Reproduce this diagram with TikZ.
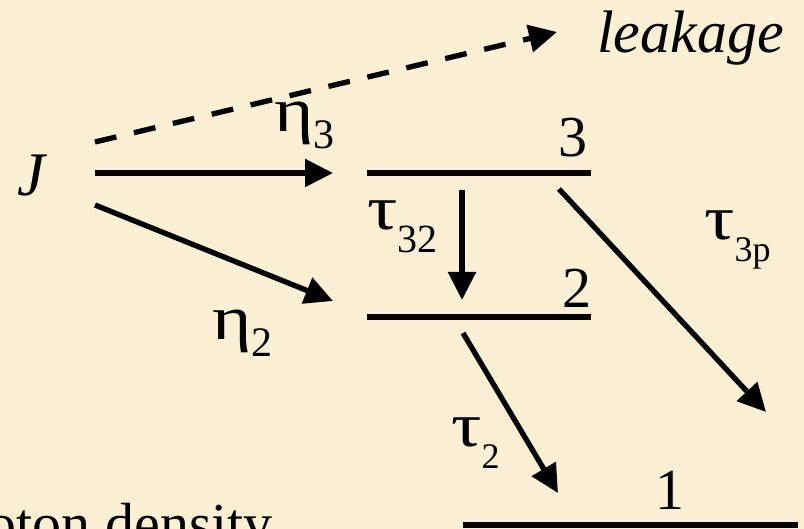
\documentclass[tikz,border=0pt]{standalone}
\usepackage{fontspec}
\setmainfont{Liberation Serif}
\usetikzlibrary{arrows.meta}
\definecolor{parch}{RGB}{251,239,212}
\newcommand{\gsub}[4]{\scalebox{1.3}[1.08]{#1}\lower#4pt\hbox{\fontsize{#3}{#3}\selectfont #2}}
\begin{document}
\begin{tikzpicture}[x=1pt,y=-1pt,
  font=\fontsize{58}{70}\selectfont,
  every node/.style={inner sep=0pt},
  lvl/.style={line width=5.3pt},
  arr/.style={line width=5.3pt,-{Triangle[length=28pt,width=27pt]}},
  darr/.style={arr,dash pattern=on 22pt off 18pt}]
\useasboundingbox (0,0) rectangle (804,529);
\clip (0,0) rectangle (804,529);
\fill[parch] (0,0) rectangle (804,529);
% texts
\node[anchor=base west,font=\fontsize{62}{70}\selectfont\itshape] (J) at (17,196) {J};
\node[anchor=base west,font=\fontsize{60}{70}\selectfont\itshape] (leak) at (597,53) {leakage};
\node[anchor=base] (lab3) at (573,157) {3};
\node[anchor=base] (lab2) at (577,308) {2};
\node[anchor=base] (lab1) at (670,510) {1};
\node[anchor=base west] (eta3) at (274,132) {\gsub{η}{3}{42}{17}};
\node[anchor=base west] (eta2) at (212,340) {\gsub{η}{2}{42}{17}};
\node[anchor=base west] (tau32) at (367,230) {\gsub{τ}{32}{40}{23}};
\node[anchor=base west] (tau3p) at (704,240) {\gsub{τ}{3p}{36}{22}};
\node[anchor=base west] (tau2) at (451,447) {\gsub{τ}{2}{36}{21}};
\node[anchor=base east] (photon) at (273,543) {Photon density};
% coordinates
\coordinate (Jl) at (95,142); \coordinate (Tl) at (557,32);
\coordinate (J3) at (95,173); \coordinate (T3) at (333,173);
\coordinate (J2) at (95,205); \coordinate (T2) at (333,301);
\coordinate (l3a) at (367,173); \coordinate (l3b) at (591,173);
\coordinate (l2a) at (367,317); \coordinate (l2b) at (591,317);
\coordinate (l1a) at (463,525); \coordinate (l1b) at (798,525);
\coordinate (s32) at (462,190); \coordinate (e32) at (462,300);
\coordinate (s3p) at (559,189); \coordinate (e3p) at (766,412);
\coordinate (s21) at (463,333); \coordinate (e21) at (558,493);
% levels
\draw[lvl] (l3a) -- (l3b);
\draw[lvl] (l2a) -- (l2b);
\draw[lvl] (l1a) -- (l1b);
% arrows
\draw[darr] (Jl) -- (Tl);
\draw[arr] (J3) -- (T3);
\draw[arr] (J2) -- (T2);
\draw[arr] (s32) -- (e32);
\draw[arr] (s3p) -- (e3p);
\draw[arr] (s21) -- (e21);
\end{tikzpicture}
\end{document}
